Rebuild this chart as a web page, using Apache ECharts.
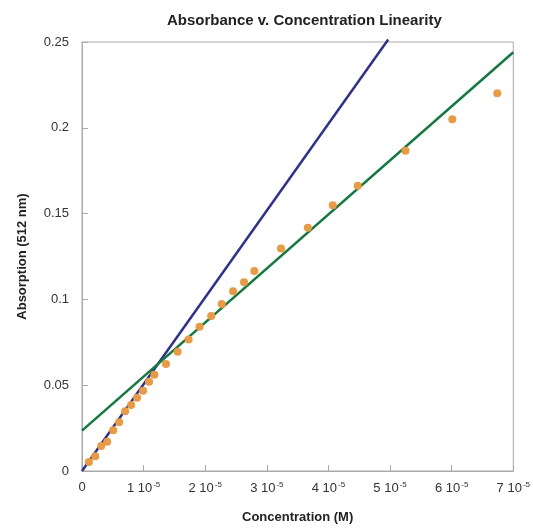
<!DOCTYPE html>
<html>
<head>
<meta charset="utf-8">
<script src="https://cdn.jsdelivr.net/npm/echarts@6/dist/echarts.min.js"></script>
<style>
html,body{margin:0;padding:0;background:#fff;}
#c{width:533px;height:529px;}
</style>
</head>
<body>
<div id="c"></div>
<script>
// Concentration in units of 1e-5 M
const concentration = [0.113,0.215,0.312,0.409,0.506,0.603,0.700,0.797,0.894,0.991,1.088,1.175,1.363,1.552,1.730,1.908,2.097,2.268,2.452,2.630,2.797,3.230,3.665,4.070,4.475,5.250,6.010,6.740];
const absorption = [0.0052,0.0086,0.0146,0.0171,0.0237,0.0284,0.0348,0.0385,0.0427,0.0468,0.0520,0.0561,0.0624,0.0695,0.0767,0.0841,0.0903,0.0973,0.1047,0.1100,0.1166,0.1296,0.1417,0.1548,0.1663,0.1866,0.2050,0.2202];
// Fit lines (endpoints)
const lowFitX = [0, 4.97];
const lowFitY = [0, 0.2515];
const allFitX = [0, 7];
const allFitY = [0.0235, 0.244];

const chart = echarts.init(document.getElementById('c'));
const font = 'Liberation Sans, Arial, Helvetica, sans-serif';
const pts = concentration.map((x,i)=>[x, absorption[i]]);
chart.setOption({
  animation:false,
  backgroundColor:'#fff',
  title:{text:'Absorbance v. Concentration Linearity', left:162, top:8,
    textStyle:{fontFamily:font, fontSize:15, fontWeight:'bold', color:'#222'}},
  grid:{left:82, right:18, top:42, bottom:58, show:true, borderColor:'#aaa', borderWidth:1, backgroundColor:'transparent'},
  xAxis:{type:'value', min:0, max:7, interval:1,
    name:'Concentration (M)', nameLocation:'middle', nameGap:40,
    nameTextStyle:{fontFamily:font, fontSize:13, fontWeight:'bold', color:'#222'},
    axisLine:{lineStyle:{color:'#aaa', width:1}},
    axisTick:{inside:true, length:6, lineStyle:{color:'#aaa'}},
    splitLine:{show:false},
    axisLabel:{margin:10, color:'#333', fontFamily:font, fontSize:13,
      formatter:function(v){ return v===0 ? '{a|0}' : '{a|'+v+' 10}{s|-5}'; },
      rich:{a:{fontFamily:font, fontSize:13, color:'#333'}, s:{fontFamily:font, fontSize:8, color:'#333', verticalAlign:'top', padding:[0,0,6,1]}}}
  },
  yAxis:{type:'value', min:0, max:0.25, interval:0.05,
    name:'Absorption (512 nm)', nameLocation:'middle', nameGap:53, nameRotate:90,
    nameTextStyle:{fontFamily:font, fontSize:13, fontWeight:'bold', color:'#222'},
    axisLine:{show:true, lineStyle:{color:'#aaa', width:1}},
    axisTick:{show:true, inside:true, length:6, lineStyle:{color:'#aaa'}},
    splitLine:{show:false},
    axisLabel:{margin:13, color:'#333', fontFamily:font, fontSize:13,
      formatter:function(v){ return String(parseFloat(v.toFixed(2))); }}
  },
  series:[
    {type:'line', data:lowFitX.map((x,i)=>[x, lowFitY[i]]), symbol:'none', clip:false,
      lineStyle:{color:'#2e3192', width:2.5}, z:2},
    {type:'line', data:allFitX.map((x,i)=>[x, allFitY[i]]), symbol:'none', clip:false,
      lineStyle:{color:'#137a3f', width:2.5}, z:2},
    {type:'scatter', data:pts, symbol:'circle', symbolSize:8,
      itemStyle:{color:'#eb9a44', opacity:1}, z:3}
  ]
});
</script>
</body>
</html>
